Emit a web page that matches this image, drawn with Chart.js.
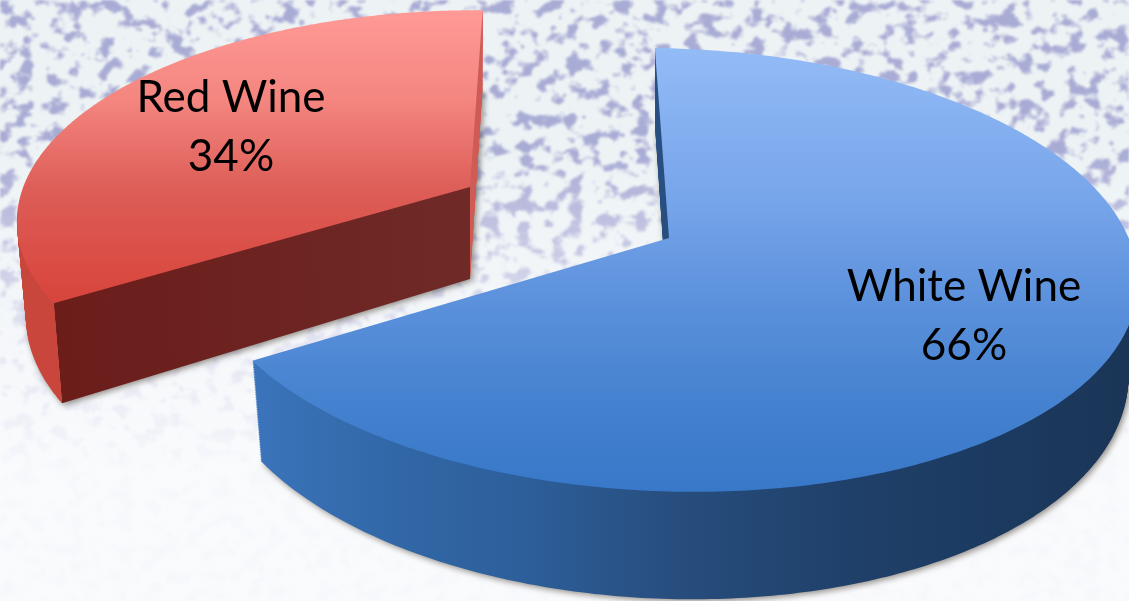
<!DOCTYPE html>
<html>
<head>
<meta charset="utf-8">
<title>Wine</title>
<script src="https://cdn.jsdelivr.net/npm/chart.js@4/dist/chart.umd.min.js"></script>
<style>
    html, body { margin: 0; padding: 0; width: 1129px; height: 601px; overflow: hidden; background: #f6f8fa; }
    #texture, #fade, #wine-chart { position: absolute; left: 0; top: 0; }
    #fade { width: 1129px; height: 601px; background: linear-gradient(rgba(248,249,252,0) 25%, rgba(248,249,252,0.7) 55%, rgba(250,251,253,0.96) 78%); }
</style>
</head>
<body>
<svg id="texture" width="1129" height="601">
    <filter id="marble" x="0" y="0" width="100%" height="100%" color-interpolation-filters="sRGB">
        <feTurbulence type="fractalNoise" baseFrequency="0.06 0.07" numOctaves="3" seed="11"/>
        <feColorMatrix type="matrix" values="0 0 0 0 0.66  0 0 0 0 0.67  0 0 0 0 0.83  5 5 0 0 -5.1"/>
        <feGaussianBlur stdDeviation="1.2"/>
    </filter>
    <rect width="1129" height="601" fill="#edf3f5"/>
    <rect width="1129" height="601" filter="url(#marble)"/>
</svg>
<div id="fade"></div>
<canvas id="wine-chart" width="1129" height="601"></canvas>
<script>
const categories = ['White Wine', 'Red Wine'];
const shares = [66, 34];

// Where each slice sits on the picture: apex, radii, shear
const views = [
    { x: 669, y: 238, rx: 464, ry: 217, shearX: 0, shearY: 12 },
    { x: 470, y: 187, rx: 443, ry: 202, shearX: -30, shearY: 9 }
];
const labelSpots = [{ x: 964, y: 301 }, { x: 231, y: 112 }];

const PERSPECTIVE = 0.144;
const DEPTH = 92;
const SQUEEZE = 0.02;
const LAYERS = 60;

// Map a point of the flat pie to the tilted one, z = 0 on top, 1 at the bottom
function project(arc, view, px, py, z) {
    const u = (px - arc.x) / arc.outerRadius;
    const v = (py - arc.y) / arc.outerRadius;
    const w = 1 - PERSPECTIVE * v;
    return {
        x: view.x + (view.rx * u + view.shearX * v) / w * (1 - SQUEEZE * z),
        y: view.y + (view.shearY * u + view.ry * v + DEPTH * z) / w
    };
}

// Stand-in for the 2d context, so the arc element draws its own path in perspective
function tiltedContext(ctx, arc, view, z, paint) {
    return {
        save() {},
        restore() {},
        translate() {},
        beginPath() { ctx.beginPath(); },
        closePath() { ctx.closePath(); },
        moveTo(x, y) { const p = project(arc, view, x, y, z); ctx.moveTo(p.x, p.y); },
        lineTo(x, y) { const p = project(arc, view, x, y, z); ctx.lineTo(p.x, p.y); },
        arc(x, y, r, from, to) {
            const steps = 160;
            for (let i = 0; i <= steps; i++) {
                const a = from + (to - from) * i / steps;
                this.lineTo(x + r * Math.cos(a), y + r * Math.sin(a));
            }
        },
        fill() { ctx.fillStyle = paint; ctx.fill(); },
        stroke() {},
        clip() {},
        setLineDash() {}
    };
}

function verticalPaint(ctx, stops) {
    const g = ctx.createLinearGradient(0, 0, 0, 601);
    stops.forEach(([y, color]) => g.addColorStop(y / 601, color));
    return g;
}

function horizontalPaint(ctx, stops) {
    const g = ctx.createLinearGradient(0, 0, 1129, 0);
    stops.forEach(([x, color]) => g.addColorStop(Math.min(Math.max(x / 1129, 0), 1), color));
    return g;
}

function topPaint(ctx, index) {
    if (index === 0) {
        return verticalPaint(ctx, [[48, '#93bbf6'], [200, '#77a5ea'], [300, '#5c91dc'], [400, '#4582cf'], [492, '#3878c8']]);
    }
    return verticalPaint(ctx, [[10, '#ff9a96'], [100, '#f4857f'], [190, '#dd5d57'], [300, '#d8453c']]);
}

function sidePaint(ctx, index, arc, view, z) {
    if (index === 0) {
        return horizontalPaint(ctx, [[253, '#3b74bb'], [400, '#3167a6'], [520, '#2d5f9b'], [660, '#284f80'], [850, '#1f4069'], [1000, '#1c3a60'], [1129, '#1a3556']]);
    }
    const corner = project(arc, view, arc.x + arc.outerRadius * Math.cos(arc.startAngle), arc.y + arc.outerRadius * Math.sin(arc.startAngle), z).x;
    const apex = project(arc, view, arc.x, arc.y, z).x;
    return horizontalPaint(ctx, [[0, '#c9463c'], [corner, '#c9463c'], [corner + 0.5, '#6b1d1a'], [apex, '#6f2a28'], [apex + 0.5, '#cf5b55'], [600, '#cf5b55']]);
}

const tiltedPie = {
    id: 'tiltedPie',
    beforeDatasetsDraw(chart) {
        const ctx = chart.ctx;
        const arcs = chart.getDatasetMeta(0).data;
        // red sits behind the white slice
        [1, 0].forEach(index => {
            const arc = arcs[index];
            const view = views[index];
            for (let i = LAYERS; i > 0; i--) {
                const z = i / LAYERS;
                ctx.save();
                if (i === LAYERS) {
                    ctx.shadowColor = 'rgba(60, 50, 40, 0.55)';
                    ctx.shadowBlur = 6;
                    ctx.shadowOffsetY = 2;
                    ctx.shadowOffsetX = 2;
                }
                arc.draw(tiltedContext(ctx, arc, view, z, sidePaint(ctx, index, arc, view, z)));
                ctx.restore();
            }
            arc.draw(tiltedContext(ctx, arc, view, 0, topPaint(ctx, index)));
        });
        return false;
    },
    afterDraw(chart) {
        const ctx = chart.ctx;
        ctx.save();
        ctx.fillStyle = '#000';
        ctx.font = '44px Lato';
        ctx.textAlign = 'center';
        ctx.textBaseline = 'alphabetic';
        categories.forEach((name, i) => {
            ctx.fillText(name, labelSpots[i].x, labelSpots[i].y);
            ctx.fillText(shares[i] + '%', labelSpots[i].x, labelSpots[i].y + 59);
        });
        ctx.restore();
    }
};

new Chart(document.getElementById('wine-chart').getContext('2d'), {
    type: 'pie',
    data: {
        labels: categories,
        datasets: [{
            data: shares,
            rotation: -2,
            borderWidth: 0,
            backgroundColor: ['#5c91dc', '#dd5d57']
        }]
    },
    options: {
        responsive: false,
        animation: false,
        layout: { padding: 0 },
        plugins: { legend: { display: false }, tooltip: { enabled: false } }
    },
    plugins: [tiltedPie]
});
</script>
</body>
</html>
